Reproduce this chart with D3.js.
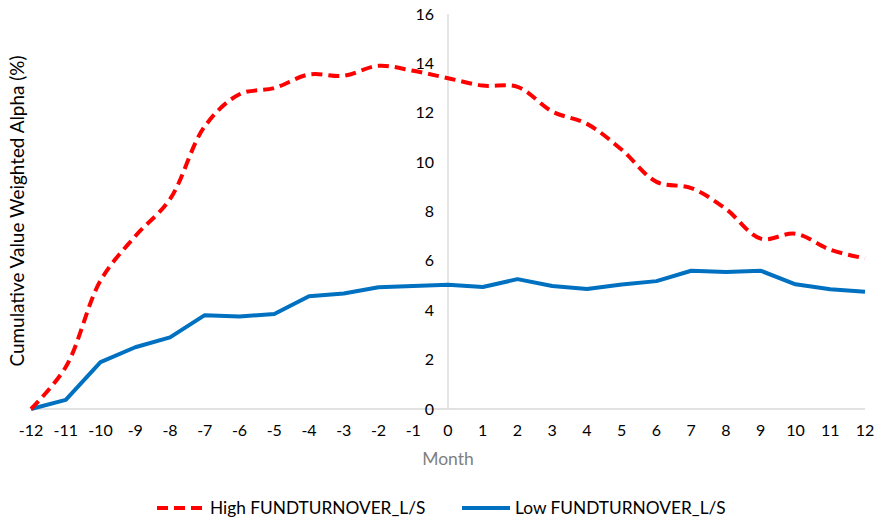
<!DOCTYPE html>
<html>
<head>
<meta charset="utf-8">
<script src="https://cdn.jsdelivr.net/npm/d3@7"></script>
<style>
  body { margin: 0; background: #fff; }
  text { font-family: Lato, "Open Sans", sans-serif; }
</style>
</head>
<body>
<div id="chart"></div>
<script>
const months = d3.range(-12, 13);
const highTurnover = [0, 1.7, 5.2, 7.0, 8.5, 11.45, 12.75, 13.0, 13.55, 13.5, 13.9, 13.7,
  13.4, 13.1, 13.05, 12.05, 11.55, 10.5, 9.2, 8.95, 8.1, 6.9, 7.1, 6.45, 6.1];
const lowTurnover = [0, 0.37, 1.9, 2.5, 2.9, 3.8, 3.75, 3.85, 4.57, 4.68, 4.93, 4.98,
  5.03, 4.94, 5.26, 4.98, 4.86, 5.04, 5.18, 5.6, 5.55, 5.6, 5.05, 4.85, 4.75];
const yTicks = [0, 2, 4, 6, 8, 10, 12, 14, 16];
const seriesNames = ["High FUNDTURNOVER_L/S", "Low FUNDTURNOVER_L/S"];

const RED = "#ff0000";
const BLUE = "#0070c0";

let width = 877, height = 524;
let svg = d3.select("#chart").append("svg").attr("width", width).attr("height", height);

let x = d3.scaleLinear().domain([-12, 12]).range([31, 865]);
let y = d3.scaleLinear().domain([0, 16]).range([409, 14]);

// axis lines (y axis sits at month 0)
svg.append("line").attr("x1", x(-12)).attr("x2", x(12)).attr("y1", y(0)).attr("y2", y(0))
  .attr("stroke", "#d9d9d9").attr("stroke-width", 1.3);
svg.append("line").attr("x1", x(0)).attr("x2", x(0)).attr("y1", y(0)).attr("y2", y(16))
  .attr("stroke", "#d9d9d9").attr("stroke-width", 1.3);

// y tick labels
svg.append("g").selectAll("text").data(yTicks).join("text")
  .attr("x", x(0) - 14).attr("y", d => y(d)).attr("dy", "0.35em")
  .attr("text-anchor", "end").attr("font-size", 16).attr("fill", "#000")
  .text(d => d);

// x tick labels
svg.append("g").selectAll("text").data(months).join("text")
  .attr("x", d => x(d)).attr("y", 436)
  .attr("text-anchor", "middle").attr("font-size", 16).attr("fill", "#000")
  .text(d => d);

// axis titles
svg.append("text").attr("x", x(0)).attr("y", 465).attr("text-anchor", "middle")
  .attr("font-size", 17.5).attr("fill", "#7f7f7f").text("Month");
svg.append("text").attr("transform", "translate(24,211) rotate(-90)")
  .attr("text-anchor", "middle").attr("font-size", 18.9).attr("fill", "#000")
  .text("Cumulative Value Weighted Alpha (%)");

// lines
let lineHigh = d3.line().x((d, i) => x(months[i])).y(d => y(d)).curve(d3.curveCatmullRom.alpha(0.5));
let lineLow = d3.line().x((d, i) => x(months[i])).y(d => y(d));

svg.append("path").attr("d", lineLow(lowTurnover)).attr("fill", "none")
  .attr("stroke", BLUE).attr("stroke-width", 4).attr("stroke-linejoin", "round");
svg.append("path").attr("d", lineHigh(highTurnover)).attr("fill", "none")
  .attr("stroke", RED).attr("stroke-width", 4).attr("stroke-dasharray", "11,6");

// legend
let legend = svg.append("g");
legend.append("line").attr("x1", 157).attr("x2", 202).attr("y1", 508).attr("y2", 508)
  .attr("stroke", RED).attr("stroke-width", 4).attr("stroke-dasharray", "11,6");
legend.append("text").attr("x", 210).attr("y", 508).attr("dy", "0.35em")
  .attr("font-size", 17.3).attr("fill", "#000").text(seriesNames[0]);
legend.append("line").attr("x1", 462).attr("x2", 510).attr("y1", 508).attr("y2", 508)
  .attr("stroke", BLUE).attr("stroke-width", 4);
legend.append("text").attr("x", 515).attr("y", 508).attr("dy", "0.35em")
  .attr("font-size", 17.3).attr("fill", "#000").text(seriesNames[1]);
</script>
</body>
</html>
